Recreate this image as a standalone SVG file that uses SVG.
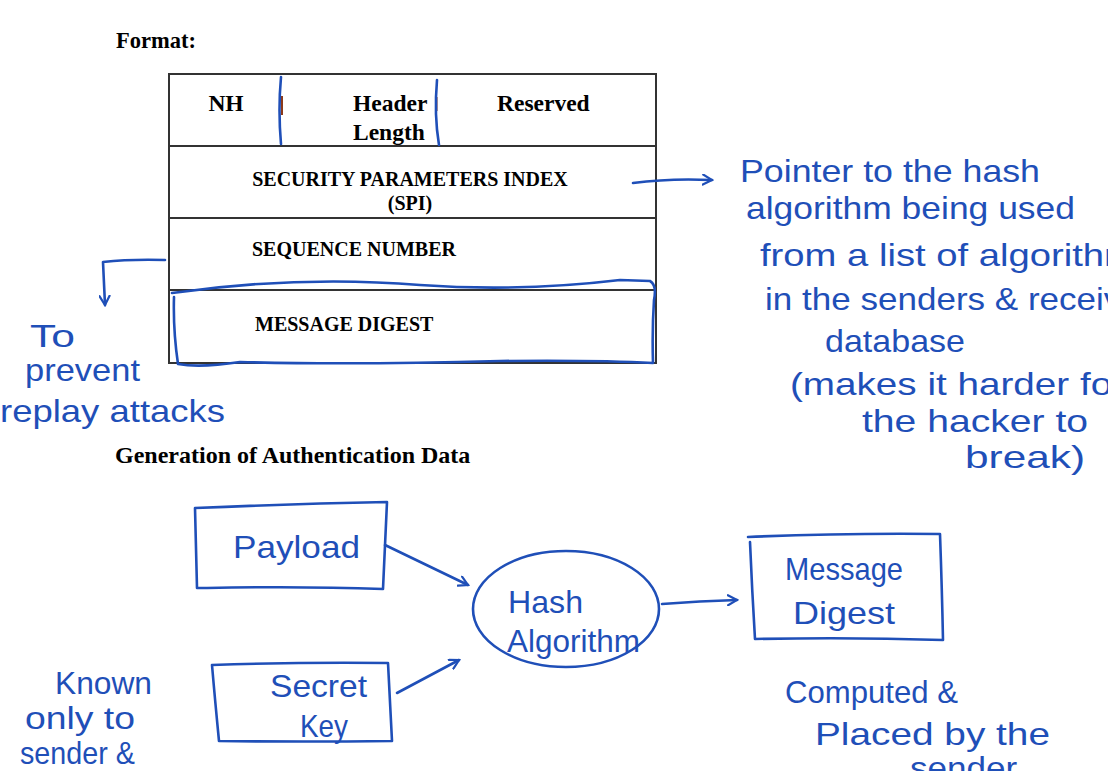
<svg xmlns="http://www.w3.org/2000/svg" width="1108" height="771" viewBox="0 0 1108 771">
<defs>
<style>
.h{font-family:"Liberation Serif","Times New Roman",serif;font-weight:bold;fill:#000}
.hw{font-family:"Liberation Sans",Arial,sans-serif;fill:#1f4fb8;font-size:32px}
.ink{fill:none;stroke:#1f4fb8;stroke-width:2.6;stroke-linecap:round;stroke-linejoin:round}
.tbl{fill:none;stroke:#333;stroke-width:2}
</style>
<marker id="ah" viewBox="0 0 12 12" refX="10" refY="6" markerWidth="12" markerHeight="12" markerUnits="userSpaceOnUse" orient="auto">
<path d="M1,1 L10,6 L1,11" fill="none" stroke="#1f4fb8" stroke-width="2.2" stroke-linecap="round"/>
</marker>
</defs>
<rect width="1108" height="771" fill="#fff"/>

<text class="h" x="116" y="48" font-size="22.5">Format:</text>

<g id="header-table">
<rect class="tbl" x="169" y="74" width="487" height="289"/>
<line class="tbl" x1="169" y1="146" x2="656" y2="146"/>
<line class="tbl" x1="169" y1="218" x2="656" y2="218"/>
<line class="tbl" x1="169" y1="290" x2="656" y2="290"/>
<text class="h" x="226" y="111" font-size="23.5" text-anchor="middle">NH</text>
<rect x="281" y="96" width="2" height="19" fill="#8b3a1a"/>
<text class="h" x="353" y="111" font-size="23.5">Header</text>
<text class="h" x="353" y="140" font-size="23.5">Length</text>
<rect x="436" y="97" width="1.5" height="14" fill="#8b3a1a"/>
<text class="h" x="497" y="111" font-size="23.5">Reserved</text>
<text class="h" x="410" y="186" font-size="20" text-anchor="middle">SECURITY PARAMETERS INDEX</text>
<text class="h" x="410" y="210" font-size="20" text-anchor="middle">(SPI)</text>
<text class="h" x="252" y="256" font-size="20">SEQUENCE NUMBER</text>
<text class="h" x="255" y="331" font-size="20">MESSAGE DIGEST</text>
<path class="ink" d="M281,77 Q278,110 281,144" stroke-width="2"/>
<path class="ink" d="M437,80 Q434,115 439,145" stroke-width="2"/>
<path class="ink" d="M172,293 Q300,275 420,285 Q520,292 620,280 L650,281 Q657,285 654,300 Q652,330 653,363 Q600,360 500,361 Q350,365 240,362 Q200,368 178,364 Q173,330 174,297" stroke-width="2"/>
</g>

<g id="connectors">
<path class="ink" d="M633,183 Q670,178 712,180" marker-end="url(#ah)"/>
<path class="ink" d="M165,260 Q130,259 103,262 L105,305" marker-end="url(#ah)"/>
<path class="ink" d="M385,545 L468,585" marker-end="url(#ah)"/>
<path class="ink" d="M397,693 L459,660" marker-end="url(#ah)"/>
<path class="ink" d="M662,604 Q700,601 737,600" marker-end="url(#ah)"/>
</g>

<g id="spi-note">
<text class="hw" x="740" y="182" textLength="300" lengthAdjust="spacingAndGlyphs">Pointer to the  hash</text>
<text class="hw" x="746" y="219" textLength="329" lengthAdjust="spacingAndGlyphs">algorithm being used</text>
<text class="hw" x="760" y="266" textLength="395" lengthAdjust="spacingAndGlyphs">from a list of algorithms</text>
<text class="hw" x="765" y="310" textLength="405" lengthAdjust="spacingAndGlyphs">in the  senders &amp; receivers</text>
<text class="hw" x="825" y="352" textLength="140" lengthAdjust="spacingAndGlyphs">database</text>
<text class="hw" x="790" y="395" textLength="335" lengthAdjust="spacingAndGlyphs">(makes it harder for</text>
<text class="hw" x="862" y="432" textLength="226" lengthAdjust="spacingAndGlyphs">the  hacker to</text>
<text class="hw" x="965" y="468" textLength="120" lengthAdjust="spacingAndGlyphs">break)</text>
</g>

<g id="seq-note">
<text class="hw" x="30" y="347" textLength="45" lengthAdjust="spacingAndGlyphs">To</text>
<text class="hw" x="25" y="381" textLength="115" lengthAdjust="spacingAndGlyphs">prevent</text>
<text class="hw" x="0" y="422" textLength="225" lengthAdjust="spacingAndGlyphs">replay attacks</text>
</g>

<text class="h" x="115" y="463" font-size="24">Generation of Authentication Data</text>

<g id="payload">
<path class="ink" d="M195,508 Q290,504 387,502 Q385,545 383,589 Q300,586 207,588 L197,588 Q196,548 195,508"/>
<text class="hw" x="233" y="558" font-size="40" textLength="127" lengthAdjust="spacingAndGlyphs">Payload</text>
</g>

<g id="secret-key">
<path class="ink" d="M212,665 Q300,662 388,663 Q390,700 392,741 Q300,742 219,741 Q215,700 212,665"/>
<text class="hw" x="270" y="697" textLength="97" lengthAdjust="spacingAndGlyphs">Secret</text>
<text class="hw" x="300" y="737" font-size="34" textLength="48" lengthAdjust="spacingAndGlyphs">Key</text>
</g>

<g id="hash-algorithm">
<ellipse class="ink" cx="566" cy="609" rx="93" ry="58"/>
<text class="hw" x="508" y="613" font-size="34" textLength="75" lengthAdjust="spacingAndGlyphs">Hash</text>
<text class="hw" x="507" y="652" font-size="30" textLength="133" lengthAdjust="spacingAndGlyphs">Algorithm</text>
</g>

<g id="message-digest">
<path class="ink" d="M748,537 Q840,533 940,534 Q942,590 943,640 Q850,637 755,639 Q752,590 750,542"/>
<text class="hw" x="785" y="580" textLength="118" lengthAdjust="spacingAndGlyphs">Message</text>
<text class="hw" x="793" y="624" font-size="34" textLength="102" lengthAdjust="spacingAndGlyphs">Digest</text>
</g>

<g id="digest-note">
<text class="hw" x="785" y="703" textLength="173" lengthAdjust="spacingAndGlyphs">Computed  &amp;</text>
<text class="hw" x="815" y="745" textLength="235" lengthAdjust="spacingAndGlyphs">Placed  by  the</text>
<text class="hw" x="910" y="779" textLength="115" lengthAdjust="spacingAndGlyphs">sender.</text>
</g>

<g id="key-note">
<text class="hw" x="55" y="694" textLength="97" lengthAdjust="spacingAndGlyphs">Known</text>
<text class="hw" x="25" y="729" font-size="30" textLength="110" lengthAdjust="spacingAndGlyphs">only to</text>
<text class="hw" x="20" y="764" font-size="28" textLength="115" lengthAdjust="spacingAndGlyphs">sender &amp;</text>
</g>
</svg>
